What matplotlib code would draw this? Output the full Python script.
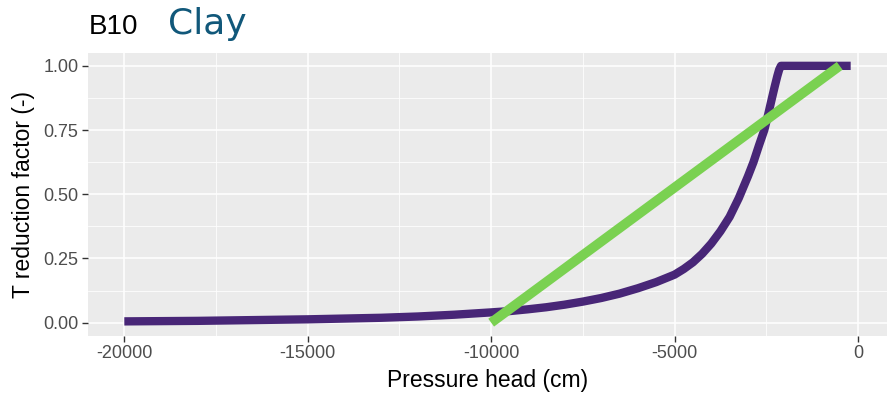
import matplotlib
matplotlib.use("Agg")
from matplotlib import pyplot as plt

# purple curve
head_cm = [-20000, -19000, -18000, -17000, -16000, -15000, -14000, -13000,
           -12000, -11000, -10000, -9500, -9000, -8500, -8000, -7500, -7000,
           -6500, -6000, -5500, -5000, -4750, -4500, -4250, -4000, -3750,
           -3500, -3250, -3000, -2850, -2700, -2555, -2450, -2345, -2270,
           -2200, -2150, -2100, -200]
t_factor = [0.005, 0.006, 0.007, 0.009, 0.011, 0.013, 0.016, 0.019,
            0.024, 0.031, 0.040, 0.045, 0.052, 0.060, 0.070, 0.082, 0.096,
            0.113, 0.134, 0.158, 0.187, 0.209, 0.235, 0.268, 0.308, 0.356,
            0.412, 0.485, 0.570, 0.625, 0.690, 0.750, 0.810, 0.875, 0.920,
            0.960, 0.985, 1.000, 1.000]

# green straight line
lin_head = [-10000, -500]
lin_factor = [0.0, 1.0]

x_ticks = [-20000, -15000, -10000, -5000, 0]
y_ticks = [0.0, 0.25, 0.5, 0.75, 1.0]

W, H = 888, 395
fig = plt.figure(figsize=(W / 100, H / 100), dpi=100)
plt.rcParams['font.family'] = ['Liberation Sans', 'DejaVu Sans']

# panel in pixels: left 88, right 887, top 53, bottom 335
ax = fig.add_axes([88 / W, 1 - 335.5 / H, (887 - 88) / W, (335.5 - 53) / H])
ax.set_facecolor('#EBEBEB')
for s in ax.spines.values():
    s.set_visible(False)

ax.set_xlim(-20990, 790)
ax.set_ylim(-0.05, 1.05)
ax.set_xticks(x_ticks)
ax.set_xticklabels([str(v) for v in x_ticks])
ax.set_yticks(y_ticks)
ax.set_yticklabels([f"{v:.2f}" for v in y_ticks])
ax.set_xticks([-17500, -12500, -7500, -2500], minor=True)
ax.set_yticks([0.125, 0.375, 0.625, 0.875], minor=True)

ax.set_axisbelow(True)
ax.grid(which='major', color='white', linewidth=1.1)
ax.grid(which='minor', color='white', linewidth=0.55)
ax.tick_params(which='major', length=4, width=1.0, color='#333333',
               labelcolor='#4D4D4D', labelsize=13, pad=3)
ax.tick_params(which='minor', length=0)

ax.plot(head_cm, t_factor, color='#482677', linewidth=6,
        solid_capstyle='butt', solid_joinstyle='round')
ax.plot(lin_head, lin_factor, color='#7AD151', linewidth=7,
        solid_capstyle='butt')

ax.set_xlabel("Pressure head (cm)", fontsize=16.5, color='black', labelpad=5)
ax.set_ylabel("T reduction factor (-)", fontsize=16.5, color='black', labelpad=6)

fig.text(89 / W, 1 - 34 / H, "B10", fontsize=20, color='black',
         va='baseline', ha='left')
fig.text(168 / W, 1 - 34 / H, "Clay", fontsize=26, color='#11587A',
         va='baseline', ha='left', family=['DejaVu Sans'])

fig.savefig("out.png", dpi=100)
plt.close(fig)
